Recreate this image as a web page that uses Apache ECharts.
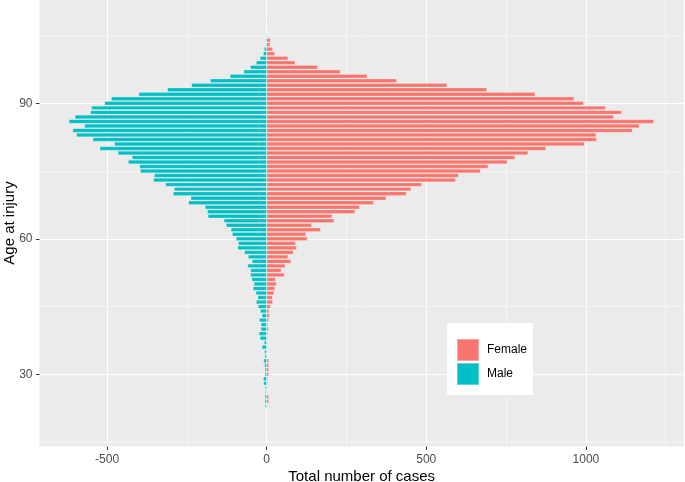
<!DOCTYPE html>
<html>
<head>
<meta charset="utf-8">
<script src="https://cdn.jsdelivr.net/npm/echarts@6/dist/echarts.min.js"></script>
<style>
html,body{margin:0;padding:0;background:#fff;}
#chart{width:685px;height:482px;}
</style>
</head>
<body>
<div id="chart"></div>
<script>
// Ages with data (19..108)
const ages = [19,20,21,22,23,24,25,26,27,28,29,30,31,32,33,34,35,36,37,38,39,40,41,42,43,44,45,46,47,48,49,50,51,52,53,54,55,56,57,58,59,60,61,62,63,64,65,66,67,68,69,70,71,72,73,74,75,76,77,78,79,80,81,82,83,84,85,86,87,88,89,90,91,92,93,94,95,96,97,98,99,100,101,102,103,104,105,106,107,108];
const maleCases = [2,2,2,2,5,6,6,4,5,10,11,6,6,7,10,6,7,15,8,21,24,18,18,23,15,20,27,33,28,34,43,40,47,51,51,60,46,58,70,91,89,96,108,112,127,134,184,186,193,245,238,293,290,317,355,352,396,398,434,422,466,523,477,545,596,608,571,620,601,552,549,508,487,401,311,236,177,115,72,51,33,21,11,8,3,3,3,0,0,0];
const femaleCases = [0,0,0,1,1,7,7,2,2,3,4,7,7,7,7,1,1,1,2,3,4,6,4,6,9,8,12,19,18,23,26,31,28,56,46,58,76,67,84,94,91,127,123,169,141,211,205,277,291,335,374,438,453,486,592,601,670,694,754,778,819,875,995,1034,1032,1146,1167,1213,1087,1112,1062,993,963,841,690,565,408,315,231,160,89,67,26,19,11,12,0,0,0,3];
const xMajorTicks = [-500, 0, 500, 1000];
const xMinorTicks = [-250, 250, 750, 1250];
const yLabelStep = 30;
const yMinorOffset = 15;

// y-axis categories covering the plotted age range
const ageCategories = [];
for (let a = 14; a <= 113; a++) ageCategories.push(String(a));
const idx = {};
ages.forEach((a, i) => { idx[a] = i; });
const maleData = ageCategories.map(c => (idx[+c] !== undefined ? -maleCases[idx[+c]] : null));
const femaleData = ageCategories.map(c => (idx[+c] !== undefined ? femaleCases[idx[+c]] : null));

const FONT = 'Liberation Sans, Arial, sans-serif';
const chart = echarts.init(document.getElementById('chart'), null, {renderer: 'canvas'});
const grid = {left: 39.5, right: 1.2, top: -0.5, bottom: 35.5, show: true, backgroundColor: '#EBEBEB', borderWidth: 0, containLabel: false, outerBoundsMode: 'none'};
const hiddenLine = {show: true, onZero: false, lineStyle: {color: 'rgba(0,0,0,0)', width: 0}};

chart.setOption({
  animation: false,
  backgroundColor: '#ffffff',
  grid: grid,
  legend: {
    data: ['Female', 'Male'],
    orient: 'vertical',
    left: 447, top: 323,
    backgroundColor: '#ffffff',
    padding: [15, 6, 9, 9],
    itemWidth: 22, itemHeight: 22, itemGap: 0,
    icon: 'rect',
    selectedMode: false,
    textStyle: {fontFamily: FONT, fontSize: 12, color: '#000000', padding: [0, 0, 0, 3]}
  },
  xAxis: [
    {
      type: 'value', min: -711.75, max: 1306.75,
      name: 'Total number of cases', nameLocation: 'middle', nameGap: 23, nameMoveOverlap: false,
      nameTextStyle: {fontFamily: FONT, fontSize: 15, color: '#000000'},
      axisLine: hiddenLine,
      axisTick: {show: true, inside: false, customValues: xMajorTicks, length: 3.5, lineStyle: {color: '#333333', width: 1}},
      axisLabel: {customValues: xMajorTicks, fontFamily: FONT, fontSize: 12, color: '#4D4D4D', margin: 7, formatter: v => String(v)},
      splitLine: {show: true, lineStyle: {color: '#FFFFFF', width: 1.07}}
    },
    {
      type: 'value', min: -711.75, max: 1306.75,
      axisLine: {show: false},
      axisTick: {show: false, customValues: xMinorTicks},
      axisLabel: {show: false, customValues: xMinorTicks},
      splitLine: {show: true, lineStyle: {color: '#FFFFFF', width: 0.53}}
    }
  ],
  yAxis: [
    {
      type: 'category', data: ageCategories, boundaryGap: false,
      name: 'Age at injury', nameLocation: 'middle', nameGap: 22, nameMoveOverlap: false,
      nameTextStyle: {fontFamily: FONT, fontSize: 15, color: '#000000'},
      axisLine: hiddenLine,
      axisTick: {show: true, inside: false, length: 3.5, interval: (i, v) => (+v) % yLabelStep === 0, lineStyle: {color: '#333333', width: 1}},
      axisLabel: {interval: (i, v) => (+v) % yLabelStep === 0, fontFamily: FONT, fontSize: 12, color: '#4D4D4D', margin: 7},
      splitLine: {show: true, interval: (i, v) => (+v) % yLabelStep === 0, lineStyle: {color: '#FFFFFF', width: 1.07}}
    },
    {
      type: 'category', data: ageCategories, boundaryGap: false, position: 'left',
      axisLine: {show: false}, axisTick: {show: false}, axisLabel: {show: false},
      splitLine: {show: true, interval: (i, v) => (+v) % yLabelStep === yMinorOffset, lineStyle: {color: '#FFFFFF', width: 0.53}}
    }
  ],
  series: [
    {
      name: 'Female', type: 'bar', xAxisIndex: 0, yAxisIndex: 0,
      data: femaleData, barWidth: '90%', barGap: '-100%',
      itemStyle: {color: '#F8766D', borderColor: 'rgba(255,255,255,0.35)', borderWidth: 0.6}
    },
    {
      name: 'Male', type: 'bar', xAxisIndex: 0, yAxisIndex: 0,
      data: maleData, barWidth: '90%', barGap: '-100%',
      itemStyle: {color: '#00BFC4', borderColor: 'rgba(255,255,255,0.35)', borderWidth: 0.6}
    }
  ]
});
</script>
</body>
</html>
